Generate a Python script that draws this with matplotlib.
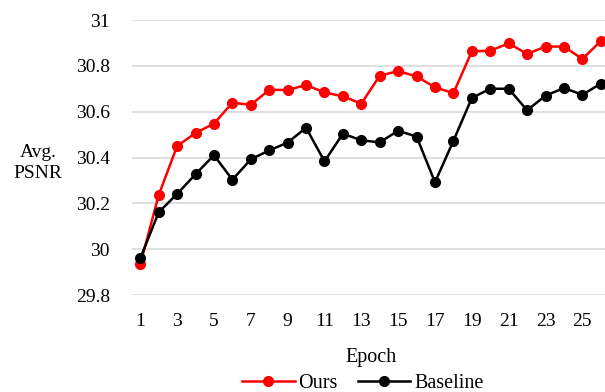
import matplotlib.pyplot as plt

plt.rcParams['font.family'] = ['Liberation Serif', 'DejaVu Serif']

epochs = list(range(1, 27))
ours = [29.934, 30.236, 30.45, 30.507, 30.548, 30.639, 30.630, 30.695, 30.695, 30.716,
        30.684, 30.667, 30.635, 30.757, 30.777, 30.754, 30.706, 30.681, 30.863, 30.866,
        30.898, 30.852, 30.884, 30.884, 30.830, 30.908]
baseline = [29.960, 30.161, 30.241, 30.327, 30.410, 30.303, 30.392, 30.431, 30.465, 30.530,
            30.383, 30.504, 30.475, 30.466, 30.517, 30.491, 30.292, 30.473, 30.660, 30.700,
            30.700, 30.606, 30.670, 30.703, 30.674, 30.722]
yticks = [29.8, 30, 30.2, 30.4, 30.6, 30.8, 31]
ytick_labels = ['29.8', '30', '30.2', '30.4', '30.6', '30.8', '31']
xticks = list(range(1, 26, 2))

fig = plt.figure(figsize=(6.05, 3.92), dpi=100)
ax = fig.add_axes([132 / 605, 1 - 295 / 392, 478 / 605, 275 / 392])

ax.plot(epochs, ours, '-o', color='#ff0000', lw=1.8, ms=7, label='Ours', zorder=3)
ax.plot(epochs, baseline, '-o', color='black', lw=1.8, ms=7, label='Baseline', zorder=4)

ax.set_xlim(0.55, 26.5)
ax.set_ylim(29.8, 31)
ax.set_yticks(yticks)
ax.set_yticklabels(ytick_labels)
ax.set_xticks(xticks)
ax.grid(axis='y', color='#d9d9d9', lw=1.2)
ax.set_axisbelow(True)
for s in ax.spines.values():
    s.set_visible(False)
ax.tick_params(length=0, labelsize=14, pad=13)
ax.tick_params(axis='y', pad=16)

ax.set_xlabel('Epoch', fontsize=14.5, labelpad=13)
fig.text(38 / 605, 1 - 163 / 392, 'Avg.\nPSNR', fontsize=14, ha='center', va='center',
         linespacing=1.3)

fig.legend(loc='center', bbox_to_anchor=(363 / 605, 1 - 383 / 392), ncol=2, frameon=False,
           fontsize=14.5, handlelength=2.6, handletextpad=0.2, columnspacing=1.0,
           borderaxespad=0, borderpad=0)

fig.savefig('out.png', dpi=100)
